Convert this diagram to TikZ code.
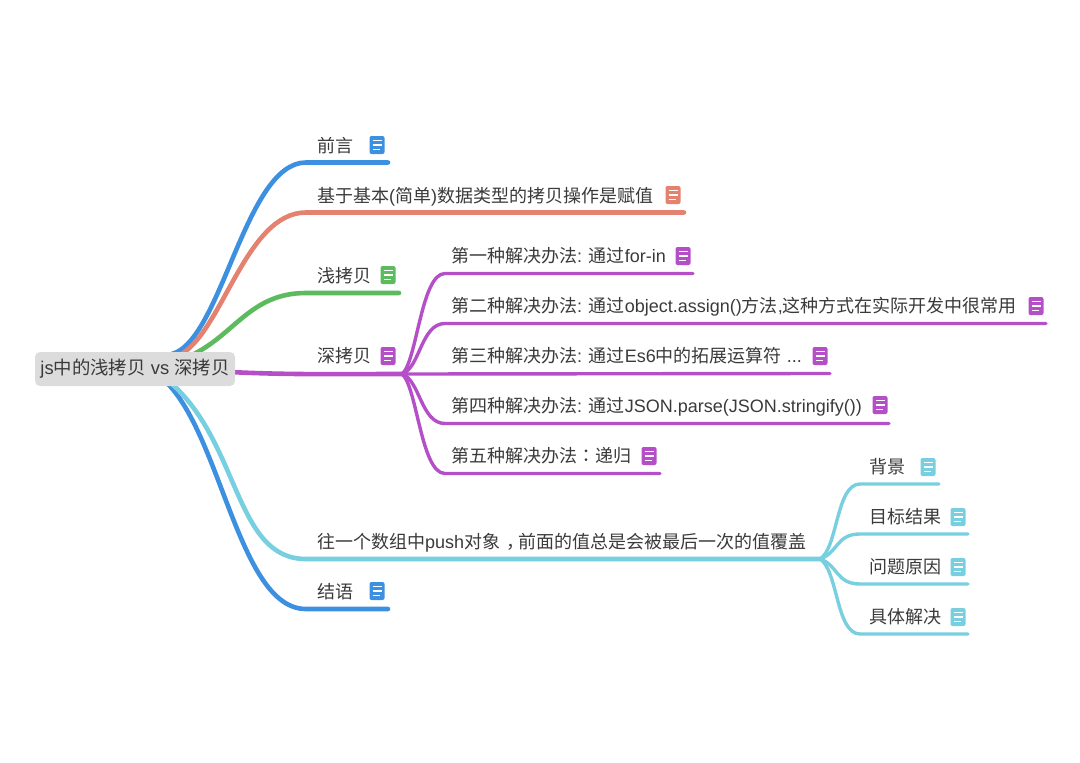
\documentclass[tikz,border=0pt]{standalone}
\usepackage{fontspec}
\setmainfont{Liberation Sans}
\newfontfamily\cjkf{Noto Sans CJK SC}
\newfontfamily\cjkt{Noto Sans CJK TC}
\newcommand{\cj}[1]{{\cjkf #1}}
\newcommand{\cjcomma}{\makebox[18pt][l]{\hspace{6pt}\cj{，}}}
\definecolor{cblue}{HTML}{3D8FDF}
\definecolor{csalmon}{HTML}{E4826F}
\definecolor{cgreen}{HTML}{5CBB5C}
\definecolor{cpurple}{HTML}{B44FC8}
\definecolor{ccyan}{HTML}{77CFDF}
\definecolor{croot}{HTML}{DCDCDC}
\definecolor{ctext}{HTML}{3A3A3A}
\tikzset{
  lbl/.style={anchor=base west,inner sep=0pt,text=ctext,font=\fontsize{18}{20}\selectfont},
  conn/.style={line width=#1,line cap=round},
  conn/.default=4.6pt,
  sub/.style={line width=3.4pt,line cap=round},
  doc/.pic={
    \fill[#1,rounded corners=2pt] (-7.5,-9) rectangle (7.5,9);
    \draw[white,line width=1.8pt] (-4.5,-4.5) -- (4.5,-4.5) (-4.5,0) -- (4.5,0) (-4.5,4.5) -- (2.5,4.5);
  }
}
\begin{document}
\begin{tikzpicture}[x=1pt,y=-1pt]
\useasboundingbox (0,0) rectangle (1080,763);
% anchors
\coordinate (rU) at (172,354);
\coordinate (rD) at (168,384);
\coordinate (rC) at (172,384);
\coordinate (e1) at (388,162.5);
\coordinate (e2) at (684,212.5);
\coordinate (e3) at (399,293);
\coordinate (hub) at (402,374);
\coordinate (p1) at (693,273.5);
\coordinate (p2) at (1046,323.5);
\coordinate (p3) at (830,373.5);
\coordinate (p4) at (889,423.5);
\coordinate (p5) at (660,473.5);
\coordinate (hubc) at (820,559);
\coordinate (c1) at (939,484);
\coordinate (c2) at (968,534);
\coordinate (c3) at (968,584);
\coordinate (c4) at (968,634);
\coordinate (e7) at (388,609);
% level 1 connectors
\draw[conn,cblue] (rD) .. controls (222,440) and (240,609) .. (306,609) -- (e7);
\draw[conn,ccyan] (rC) .. controls (240,445) and (235,559) .. (306,559) -- (hubc);
\draw[conn,cblue] (rU) .. controls (222,340) and (245,162.5) .. (306,162.5) -- (e1);
\draw[conn,csalmon] (178,356) .. controls (222,335) and (245,212.5) .. (306,212.5) -- (e2);
\draw[conn,cgreen] (190,356) .. controls (235,335) and (250,293) .. (306,293) -- (e3);
\draw[conn,cpurple] (230,372) .. controls (290,375) and (340,374) .. (hub);
% purple branches
\draw[sub,cpurple] (hub) .. controls (417,362) and (421,273.5) .. (445,273.5) -- (p1);
\draw[sub,cpurple] (hub) .. controls (420,368) and (421,323.5) .. (445,323.5) -- (p2);
\draw[sub,cpurple] (hub) -- (p3);
\draw[sub,cpurple] (hub) .. controls (420,380) and (421,423.5) .. (445,423.5) -- (p4);
\draw[sub,cpurple] (hub) .. controls (417,386) and (421,473.5) .. (445,473.5) -- (p5);
% cyan branches
\draw[sub,ccyan] (hubc) .. controls (838,548) and (836,484) .. (860,484) -- (c1);
\draw[sub,ccyan] (hubc) .. controls (838,553) and (836,534) .. (860,534) -- (c2);
\draw[sub,ccyan] (hubc) .. controls (838,565) and (836,584) .. (860,584) -- (c3);
\draw[sub,ccyan] (hubc) .. controls (838,570) and (836,634) .. (860,634) -- (c4);
% root
\node[fill=croot,rounded corners=5pt,minimum width=200pt,minimum height=34pt,inner sep=0pt,text=ctext,font=\fontsize{18.4}{20}\selectfont] (root) at (135,369) {js\cj{中的浅拷贝} vs \cj{深拷贝}};
% labels level 1
\node[lbl] (a1) at (317,152) {\cj{前言}};
\node[lbl] (a2) at (317,202) {\cj{基于基本}(\cj{简单})\cj{数据类型的拷贝操作是赋值}};
\node[lbl] (a3) at (317,282) {\cj{浅拷贝}};
\node[lbl] (a4) at (317,362) {\cj{深拷贝}};
\node[lbl] (a6) at (317,548) {\cj{往一个数组中}push\cj{对象}\cjcomma\cj{前面的值总是会被最后一次的值覆盖}};
\node[lbl] (a7) at (317,598) {\cj{结语}};
% purple labels
\node[lbl] (b1) at (451,262) {\cj{第一种解决办法}: \cj{通过}for-in};
\node[lbl] (b2) at (451,312) {\cj{第二种解决办法}: \cj{通过}object.assign()\cj{方法},\cj{这种方式在实际开发中很常用}};
\node[lbl] (b3) at (451,362) {\cj{第三种解决办法}: \cj{通过}Es6\cj{中的拓展运算符} ...};
\node[lbl] (b4) at (451,412) {\cj{第四种解决办法}: \cj{通过}JSON.parse(JSON.stringify())};
\node[lbl] (b5) at (451,462) {\cj{第五种解决办法}{\cjkt ：}\cj{递归}};
% cyan labels
\node[lbl] (d1) at (869,473) {\cj{背景}};
\node[lbl] (d2) at (869,523) {\cj{目标结果}};
\node[lbl] (d3) at (869,573) {\cj{问题原因}};
\node[lbl] (d4) at (869,623) {\cj{具体解决}};
% icons
\pic at (377,145) {doc=cblue};
\pic at (673,195) {doc=csalmon};
\pic at (388,275) {doc=cgreen};
\pic at (388,356) {doc=cpurple};
\pic at (377,591) {doc=cblue};
\pic at (683,256) {doc=cpurple};
\pic at (1036,306) {doc=cpurple};
\pic at (820,356) {doc=cpurple};
\pic at (880,405) {doc=cpurple};
\pic at (649,456) {doc=cpurple};
\pic at (928,467) {doc=ccyan};
\pic at (958,517) {doc=ccyan};
\pic at (958,567) {doc=ccyan};
\pic at (958,617) {doc=ccyan};
\end{tikzpicture}
\end{document}
